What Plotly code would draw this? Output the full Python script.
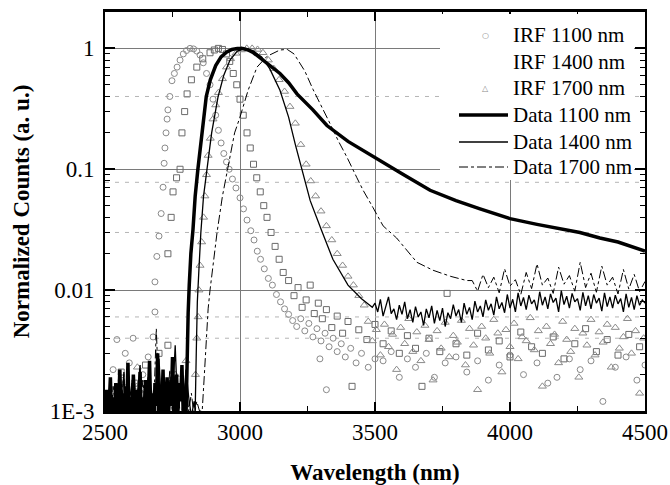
import plotly.graph_objects as go

# ---------------- data ----------------
# IRF 1100 nm (open circles)
irf1100_wl = [2530,2544,2560,2575,2590,2604,2620,2640,2660,2678,2685,2685,2692,2700,2708,2715,2719,2722,2726,2730,
              2733,2740,2748,2757,2767,2778,2790,2802,2815,2828,2840,2852,2864,2876,2889,2900,2910,2920,2930,2940,
              2950,2960,2972,2985,3000,3013,3026,3040,3052,3064,3076,3090,3105,3120,3135,3150,3165,3180,3195,3210,
              3225,3240,3255,3270,3285,3296,3300,3315,3320,3330,3345,3360,3375,3390,3410,3430,3450,3475,3500,
              3530,3560,3590,3620,3650,3690,3720,3760,3800,3840,3880,3920,3960,4000,4050,4100,4140,4174,4220,4260,
              4300,4344,4390,4430,4470,4500]
irf1100_val = [0.0022,0.0039,0.0018,0.0030,0.0025,0.0040,0.0016,0.0020,0.0028,0.0041,0.0066,0.0117,0.019,0.028,0.043,0.071,0.112,0.15,0.2,0.26,
               0.31,0.4,0.54,0.62,0.7,0.8,0.9,0.96,1.0,0.99,0.95,0.88,0.76,0.62,0.5,0.38,0.28,0.21,0.165,0.135,
               0.115,0.1,0.083,0.07,0.058,0.047,0.038,0.031,0.026,0.021,0.018,0.015,0.0125,0.011,0.0092,0.0080,0.0070,0.0063,0.0056,0.0050,
               0.0058,0.0046,0.0053,0.0041,0.0048,0.0027,0.0038,0.0044,0.0015,0.0034,0.0040,0.0031,0.0036,0.0028,0.0033,0.0025,0.0030,0.0023,0.0027,
               0.0026,0.0031,0.0019,0.0027,0.0023,0.0030,0.0019,0.0025,0.0028,0.0021,0.0026,0.0018,0.0024,0.0029,0.0020,0.0025,0.0017,0.0019,0.0027,0.0022,
               0.0026,0.0012,0.0023,0.0028,0.0018,0.0024]

# IRF 1400 nm (open squares)
irf1400_wl = [2560,2610,2650,2700,2733,2733,2745,2752,2765,2778,2785,2795,2804,2820,2840,2862,2889,2905,2920,2935,
              2950,2962,2975,2988,3000,3012,3026,3038,3050,3062,3075,3088,3100,3115,3130,3145,3160,3180,3200,3215,
              3230,3245,3260,3275,3290,3305,3320,3340,3360,3380,3400,3415,3440,3470,3500,
              3530,3560,3590,3620,3650,3674,3700,3740,3767,3800,3840,3880,3920,3960,4000,4040,4080,4120,4160,4200,
              4240,4280,4320,4360,4400,4440,4480]
irf1400_val = [0.0021,0.0017,0.0024,0.0030,0.0035,0.02,0.04,0.065,0.085,0.1,0.2,0.3,0.42,0.55,0.7,0.82,0.92,0.97,1.0,0.98,
               0.9,0.78,0.62,0.5,0.38,0.28,0.2,0.15,0.11,0.085,0.065,0.05,0.04,0.03,0.023,0.018,0.014,0.012,0.009,0.0105,
               0.0072,0.0083,0.011,0.0064,0.0078,0.0058,0.0069,0.0049,0.0061,0.0044,0.0055,0.0016,0.0047,0.0039,0.0052,
               0.0036,0.0046,0.0030,0.0042,0.0033,0.0016,0.0040,0.0031,0.0094,0.0036,0.0029,0.0044,0.0032,0.0038,0.0028,0.0045,0.0034,0.0030,0.0041,0.0027,
               0.0036,0.0048,0.0031,0.0039,0.0029,0.0043,0.0034]

# IRF 1700 nm (open triangles): peak part, then the floor sampled every 15 nm from 3475 nm
irf1700_wl = [2560,2620,2700,2760,2800,2835,2840,2845,2848,2852,2858,2865,2870,2876,2882,2890,2900,2910,2920,2935,
              2950,2965,2985,3005,3025,3045,3065,3085,3105,3125,3145,3165,3185,3205,3225,3245,3262,3280,3300,3320,
              3340,3360,3380,3400,3420,3440,3460]
irf1700_val = [0.0017,0.0023,0.0015,0.0020,0.0026,0.002,0.004,0.006,0.01,0.016,0.025,0.04,0.06,0.09,0.13,0.18,0.26,0.34,0.43,0.56,
               0.7,0.82,0.91,0.97,1.0,1.0,0.98,0.92,0.8,0.68,0.55,0.44,0.33,0.24,0.16,0.11,0.08,0.06,0.045,0.034,
               0.026,0.02,0.016,0.013,0.011,0.009,0.0075]
irf1700_floor_start, irf1700_floor_step = 3475, 15
irf1700_floor = [0.0055,0.0038,0.0047,0.0029,0.0052,0.0034,0.0043,0.0022,0.0049,0.0036,
                 0.0058,0.0031,0.0045,0.0026,0.0051,0.0039,0.0018,0.0046,0.0033,0.0054,
                 0.0028,0.0042,0.0037,0.0056,0.0024,0.0048,0.0035,0.0015,0.0050,0.0040,
                 0.0030,0.0057,0.0044,0.0021,0.0047,0.0034,0.0053,0.0027,0.0041,0.0038,
                 0.0059,0.0032,0.0046,0.0016,0.0050,0.0036,0.0043,0.0025,0.0055,0.0039,
                 0.0031,0.0048,0.0019,0.0044,0.0035,0.0057,0.0029,0.0045,0.0037,0.0052,
                 0.0023,0.0049,0.0033,0.0041,0.0058,0.0030,0.0046,0.0014,0.0040]

# Data 1100 nm (thick line): noise before the rise every 5 nm from 2500, then the curve
d1100_noise_start, d1100_noise_step = 2500, 5
d1100_noise = [0.0008,0.0015,0.0006,0.0011,0.0019,0.0007,0.0013,0.0009,0.0017,0.0005,
               0.0012,0.0022,0.0008,0.0014,0.0006,0.0016,0.0010,0.0025,0.0007,0.0013,
               0.0009,0.0020,0.0011,0.0006,0.0015,0.0009,0.0021,0.0008,0.0013,0.0010,
               0.0018,0.0007,0.0012,0.0026,0.0009,0.0014,0.0006,0.0017,0.0011,0.0030,
               0.0008,0.0015,0.0010,0.0022,0.0007,0.0013,0.0019,0.0009,0.0016,0.0011,
               0.0028,0.0008,0.0014,0.0020,0.0010,0.0017,0.0012,0.0024,0.0009,0.0015]
d1100_wl = [2800,2804,2808,2812,2818,2826,2834,2844,2858,2875,2890,2910,2930,2950,2970,2990,3010,3030,3050,3085,
            3120,3148,3180,3211,3270,3322,3400,3500,3600,3704,3800,3889,4000,4100,4200,4259,4333,4400,4500]
d1100_val = [0.0009,0.003,0.0065,0.011,0.02,0.032,0.06,0.1,0.2,0.4,0.55,0.72,0.85,0.93,0.98,1.0,1.0,0.97,0.92,0.8,
             0.7,0.62,0.52,0.42,0.31,0.23,0.17,0.126,0.092,0.067,0.055,0.047,0.039,0.035,0.032,0.030,0.027,0.025,0.021]

# Data 1400 nm (thin line)
d1400_noise_start, d1400_noise_step = 2500, 10
d1400_noise = [0.0012,0.0007,0.0018,0.0010,0.0005,0.0014,0.0009,0.0021,0.0006,0.0012,
               0.0017,0.0008,0.0013,0.0024,0.0007,0.0011,0.0019,0.0009,0.0015,0.0006,
               0.0027,0.0010,0.0014,0.0008,0.0018,0.0012,0.0035,0.0009,0.0016,0.0011,
               0.0022,0.0013,0.0009,0.0012]
d1400_wl = [2834,2838,2842,2848,2855,2865,2878,2895,2919,2940,2963,2990,3020,3050,3080,3110,3148,3180,3205,3230,
            3260,3300,3344,3400,3450,3490]
d1400_val = [0.001,0.003,0.008,0.015,0.03,0.06,0.1,0.2,0.4,0.6,0.8,0.95,1.0,0.95,0.85,0.68,0.45,0.27,0.16,0.1,
             0.055,0.032,0.018,0.011,0.0085,0.0072]
d1400_floor_start, d1400_floor_step = 3500, 10
d1400_floor = [0.0078,0.0066,0.0084,0.0061,0.0072,0.0088,0.0064,0.0070,0.0057,0.0075,
               0.0063,0.0080,0.0058,0.0069,0.0054,0.0073,0.0060,0.0066,0.0051,0.0070,
               0.0059,0.0074,0.0053,0.0068,0.0056,0.0071,0.0050,0.0065,0.0058,0.0076,
               0.0061,0.0069,0.0054,0.0078,0.0063,0.0072,0.0057,0.0081,0.0066,0.0074,
               0.0060,0.0083,0.0068,0.0077,0.0062,0.0088,0.0070,0.0079,0.0065,0.0092,
               0.0071,0.0084,0.0066,0.0095,0.0074,0.0087,0.0069,0.0091,0.0077,0.0083,
               0.0068,0.0097,0.0075,0.0088,0.0070,0.0093,0.0079,0.0086,0.0066,0.0099,
               0.0076,0.0089,0.0071,0.0094,0.0080,0.0085,0.0068,0.0096,0.0074,0.0090,
               0.0070,0.0092,0.0078,0.0086,0.0067,0.0095,0.0073,0.0088,0.0071,0.0091,
               0.0077,0.0085,0.0066,0.0093,0.0072,0.0087,0.0069,0.0090,0.0075,0.0083,
               0.0078]

# Data 1700 nm (dash-dot line)
d1700_noise_start, d1700_noise_step = 2500, 10
d1700_noise = [0.0009,0.0013,0.0007,0.0016,0.0010,0.0006,0.0012,0.0020,0.0008,0.0011,
               0.0015,0.0007,0.0013,0.0009,0.0018,0.0011,0.0006,0.0014,0.0010,0.0048,
               0.0012,0.0008,0.0016,0.0010,0.0022,0.0009,0.0013,0.0017,0.0008,0.0012,
               0.0019,0.0010,0.0014,0.0009,0.0012,0.0010]
d1700_wl = [2860,2868,2875,2882,2889,2900,2915,2935,2960,2980,3000,3030,3063,3100,3148,3175,3200,3240,3270,3300,
            3333,3365,3396,3433,3456,3493,3530,3580,3620,3655,3715,3780,3840]
d1700_val = [0.001,0.002,0.004,0.007,0.01,0.016,0.03,0.06,0.12,0.2,0.27,0.45,0.7,0.86,0.97,0.98,0.9,0.65,0.46,0.34,
             0.24,0.17,0.126,0.085,0.067,0.048,0.034,0.027,0.021,0.017,0.0146,0.013,0.012]
d1700_floor_start, d1700_floor_step = 3860, 20
d1700_floor = [0.0120,0.0098,0.0135,0.0105,0.0128,0.0095,0.0150,0.0108,0.0122,0.0092,
               0.0140,0.0103,0.0165,0.0110,0.0126,0.0094,0.0155,0.0112,0.0132,0.0098,
               0.0170,0.0105,0.0138,0.0096,0.0158,0.0110,0.0128,0.0093,0.0148,0.0102,
               0.0135,0.0097,0.0118]

# axis / legend text
x_ticks = [2500, 3000, 3500, 4000, 4500]
y_tickvals = [0.001, 0.01, 0.1, 1]
y_ticktext = ["1E-3", "0.01", "0.1", "1"]
dotted_levels = [0.4, 0.078, 0.03, 0.006, 0.004]
legend_labels = ["IRF 1100 nm", "IRF 1400 nm", "IRF 1700 nm", "Data 1100 nm", "Data 1400 nm", "Data 1700 nm"]


def grid_x(start, step, vals):
    return [start + step * i for i in range(len(vals))]


FONT = "Liberation Serif"
W, H = 670, 485
ML, MR, MT, MB = 105, 25, 12, 74
PW, PH = W - ML - MR, H - MT - MB


def px(xp):  # pixel -> paper x
    return (xp - ML) / PW


def py(yp):  # pixel -> paper y
    return (H - MB - yp) / PH


fig = go.Figure()

# dotted reference lines
for lvl in dotted_levels:
    fig.add_trace(go.Scatter(x=[2500, 4500], y=[lvl, lvl], mode="lines",
                             line=dict(color="#b4b4b4", width=1, dash="4px,6px"),
                             showlegend=False, hoverinfo="skip"))

fig.add_trace(go.Scatter(x=irf1100_wl, y=irf1100_val, mode="markers", name=legend_labels[0], showlegend=False,
                         marker=dict(symbol="circle-open", size=6, color="#8a8a8a", line=dict(width=1))))
fig.add_trace(go.Scatter(x=irf1400_wl, y=irf1400_val, mode="markers", name=legend_labels[1], showlegend=False,
                         marker=dict(symbol="square-open", size=6, color="#6a6a6a", line=dict(width=1))))
fig.add_trace(go.Scatter(x=irf1700_wl + grid_x(irf1700_floor_start, irf1700_floor_step, irf1700_floor),
                         y=irf1700_val + irf1700_floor, mode="markers", name=legend_labels[2], showlegend=False,
                         marker=dict(symbol="triangle-up-open", size=7, color="#8a8a8a", line=dict(width=1))))

fig.add_trace(go.Scatter(x=grid_x(d1100_noise_start, d1100_noise_step, d1100_noise) + d1100_wl,
                         y=d1100_noise + d1100_val, mode="lines", name=legend_labels[3], showlegend=False,
                         line=dict(color="black", width=3.5)))
fig.add_trace(go.Scatter(x=grid_x(d1400_noise_start, d1400_noise_step, d1400_noise) + d1400_wl
                         + grid_x(d1400_floor_start, d1400_floor_step, d1400_floor),
                         y=d1400_noise + d1400_val + d1400_floor, mode="lines", name=legend_labels[4], showlegend=False,
                         line=dict(color="black", width=1.3)))
fig.add_trace(go.Scatter(x=grid_x(d1700_noise_start, d1700_noise_step, d1700_noise) + d1700_wl
                         + grid_x(d1700_floor_start, d1700_floor_step, d1700_floor),
                         y=d1700_noise + d1700_val + d1700_floor, mode="lines", name=legend_labels[5], showlegend=False,
                         line=dict(color="black", width=1, dash="dashdot")))

# ---- hand-built legend (white box, samples, labels) ----
shapes = [dict(type="rect", xref="paper", yref="paper", x0=px(440), x1=px(634), y0=py(180), y1=py(14),
               fillcolor="white", line=dict(width=0), layer="above")]
row_y = [35, 62, 88, 115, 142, 167]
sample_styles = [None, None, None,
                 dict(color="black", width=3.5), dict(color="black", width=1.3),
                 dict(color="black", width=1, dash="dashdot")]
for ry, st in zip(row_y, sample_styles):
    if st is not None:
        shapes.append(dict(type="line", xref="paper", yref="paper", x0=px(459), x1=px(508),
                           y0=py(ry), y1=py(ry), line=st, layer="above"))
annotations = []
for ry, lab in zip(row_y, legend_labels):
    annotations.append(dict(x=px(511), y=py(ry), xref="paper", yref="paper", text=lab, showarrow=False,
                            xanchor="left", yanchor="middle", font=dict(family=FONT, size=21, color="black")))
marker_glyphs = {0: "○", 2: "△"}
for i, g in marker_glyphs.items():
    annotations.append(dict(x=px(485), y=py(row_y[i]), xref="paper", yref="paper", text=g, showarrow=False,
                            xanchor="center", yanchor="middle", font=dict(family="DejaVu Sans", size=8, color="#8a8a8a")))

minor_y = [m * 10 ** e for e in range(-3, 1) for m in range(2, 10)] + [2]

fig.update_layout(
    width=W, height=H,
    margin=dict(l=ML, r=MR, t=MT, b=MB),
    paper_bgcolor="white", plot_bgcolor="white",
    font=dict(family=FONT, size=23, color="black"),
    showlegend=False,
    shapes=shapes, annotations=annotations,
)
fig.update_xaxes(
    range=[2500, 4500], tickvals=x_ticks, ticks="inside", ticklen=9, tickwidth=1.5, tickcolor="black",
    minor=dict(dtick=250, tick0=2500, ticks="inside", ticklen=5, tickwidth=1.2, tickcolor="black", showgrid=False),
    showgrid=True, gridcolor="#7a7a7a", gridwidth=1,
    showline=True, linecolor="black", linewidth=2.5, mirror="ticks", zeroline=False,
    ticklabelstandoff=-1, automargin=False,
    title=dict(text="<b>Wavelength (nm)</b>", font=dict(family=FONT, size=23), standoff=21),
)
fig.update_yaxes(
    type="log", range=[-3, 0.301], tickvals=y_tickvals, ticktext=y_ticktext,
    ticks="inside", ticklen=10, tickwidth=1.5, tickcolor="black",
    minor=dict(tickvals=minor_y, ticks="inside", ticklen=5, tickwidth=1.2, tickcolor="black", showgrid=False),
    showgrid=True, gridcolor="#7a7a7a", gridwidth=1,
    showline=True, linecolor="black", linewidth=2, mirror="ticks", zeroline=False,
    ticklabelstandoff=4, automargin=False,
    title=dict(text="<b>Normalized Counts (a. u.)</b>", font=dict(family=FONT, size=23), standoff=14),
)

fig.write_html("out.html", config={"displayModeBar": False},
               post_script="document.body.style.margin='0';document.body.style.overflow='hidden';")
